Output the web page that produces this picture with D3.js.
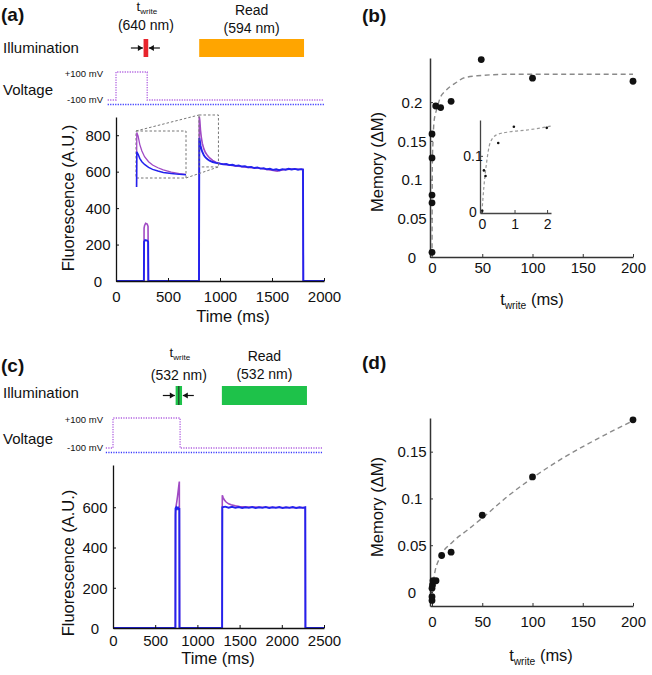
<!DOCTYPE html>
<html>
<head>
<meta charset="utf-8">
<script src="https://cdn.jsdelivr.net/npm/d3@7"></script>
<style>
  body { margin: 0; background: #fff; }
  text { font-family: "Liberation Sans", Arial, sans-serif; fill: #111; }
</style>
</head>
<body>
<svg id="fig" width="652" height="675"></svg>
<script>
// ---- panel (a): fluorescence traces, [time ms, A.U.]
const purpleA = [[0,0],[268,0],[270,290],[275,305],[285,316],[300,312],[308,300],[311,0],[798,0],[801,902],[806,880],[812,830],[820,790],[830,755],[845,725],[860,705],[880,688],[900,675],[930,662],[960,652],[1000,645],[1050,640],[1100,636],[1150,632],[1200,628],[1250,624],[1300,622],[1350,620],[1400,617],[1450,612],[1500,608],[1550,603],[1580,607],[1620,612],[1700,614],[1760,613],[1798,612],[1801,0],[2000,0]];
const blueA = [[0,0],[268,0],[270,215],[280,225],[300,222],[309,215],[311,0],[798,0],[801,785],[806,770],[812,745],[820,725],[830,708],[845,690],[860,678],[880,668],[900,660],[930,653],[960,648],[1000,644],[1030,640],[1060,642],[1090,636],[1120,638],[1150,632],[1180,634],[1210,628],[1240,630],[1270,624],[1300,626],[1330,620],[1360,623],[1390,617],[1420,619],[1450,613],[1480,616],[1510,610],[1540,613],[1570,608],[1600,614],[1630,611],[1660,616],[1690,612],[1720,615],[1750,611],[1780,614],[1798,612],[1801,0],[2000,0]];
const voltA = [[-80,-100],[0,-100],[0,100],[300,100],[300,-100],[2000,-100]];
const voltRefA = [[-80,-100],[2000,-100]];
const writeA = [265, 310];
const readA = [800, 1808];
const zoomT = [798, 985];
const zoomV = [626, 911];
const ticksXA = [0, 500, 1000, 1500, 2000];
const ticksYA = [0, 200, 400, 600, 800];

// ---- panel (b): memory vs write time
const bT = [0, 0, 0, 0, 0, 3.7, 8.6, 19, 49, 100, 200];
const bM = [0.006, 0.070, 0.080, 0.128, 0.159, 0.195, 0.193, 0.201, 0.255, 0.231, 0.227];
const bFitT = [0, 0.3, 1, 2, 5, 8, 13, 18, 25, 31, 45, 78, 200];
const bFitM = [0, 0.12, 0.15, 0.175, 0.192, 0.205, 0.214, 0.22, 0.226, 0.231, 0.234, 0.236, 0.236];
const insT = [0.01, 0.06, 0.11, 0.5, 0.98, 1.99];
const insM = [0.002, 0.074, 0.064, 0.123, 0.152, 0.150];
const insFitT = [0, 0.06, 0.14, 0.25, 0.45, 0.86, 1.37, 2.11];
const insFitM = [0, 0.045, 0.087, 0.123, 0.1375, 0.143, 0.146, 0.153];
const ticksXB = [0, 50, 100, 150, 200];
const ticksYB = [0, 0.05, 0.1, 0.15, 0.2];

// ---- panel (c)
const purpleC = [[0,0],[738,0],[740,560],[745,600],[755,625],[765,655],[775,690],[782,715],[786,728],[788,0],[1293,0],[1295,660],[1305,648],[1320,636],[1340,626],[1370,617],[1400,612],[1450,607],[1500,604],[1600,601],[1800,600],[2000,599],[2278,598],[2280,0],[2500,0]];
const blueC = [[0,0],[740,0],[741,595],[750,600],[760,592],[770,598],[780,590],[786,596],[788,0],[1293,0],[1295,600],[1330,603],[1370,598],[1410,602],[1450,597],[1490,601],[1530,596],[1570,600],[1610,597],[1650,601],[1690,596],[1730,600],[1770,597],[1810,601],[1850,596],[1890,600],[1930,597],[1970,601],[2010,596],[2050,600],[2090,597],[2130,601],[2170,596],[2210,600],[2250,597],[2278,600],[2280,0],[2500,0]];
const voltC = [[-85,-100],[0,-100],[0,100],[795,100],[795,-100],[2490,-100]];
const voltRefC = [[-85,-100],[2490,-100]];
const writeC = [742, 818];
const readC = [1290, 2298];
const ticksXC = [0, 500, 1000, 1500, 2000, 2500];
const ticksYC = [0, 200, 400, 600];

// ---- panel (d)
const dT = [0, 0, 0, 0.5, 1, 4, 9.6, 19, 50, 100, 200];
const dM = [-0.009, -0.005, 0.004, 0.0075, 0.012, 0.012, 0.039, 0.0425, 0.082, 0.123, 0.184];
const dFitT = [0, 3, 8, 20, 35, 50, 75, 100, 130, 165, 200];
const dFitM = [0.002, 0.022, 0.037, 0.053, 0.066, 0.079, 0.102, 0.122, 0.143, 0.164, 0.183];
const ticksYD = [0, 0.05, 0.1, 0.15];

const PURPLE = "#a04ac4", BLUE = "#2222ee";
const LABEL_FS = 16.5;
const svg = d3.select("#fig");

// axes in matlab style: ticks inward, y labels centred
function axes(g, x, y, xt, yt, o) {
  const ax = g.append("g")
    .attr("transform", `translate(0,${y.range()[0]})`)
    .call(d3.axisBottom(x).tickValues(xt).tickSize(-3).tickSizeOuter(0).tickFormat(d => d));
  ax.selectAll("text").attr("y", o.xOff).attr("dy", null);
  const ay = g.append("g")
    .attr("transform", `translate(${x.range()[0]},0)`)
    .call(d3.axisLeft(y).tickValues(yt).tickSize(-3).tickSizeOuter(0).tickFormat(d => d));
  ay.selectAll("text").attr("x", o.yOff).attr("text-anchor", "middle").attr("dy", "0.35em");
  [ax, ay].forEach(a => {
    a.attr("font-family", null).attr("font-size", null);
    a.selectAll("text").style("font-size", (o.fs || 15) + "px").style("fill", "#111");
    a.select(".domain").attr("stroke", o.col || "#111").attr("stroke-width", o.sw || 1.3);
    a.selectAll(".tick line").attr("stroke", o.col || "#111");
  });
}

function line(x, y) {
  return d3.line().x(d => x(d[0])).y(d => y(d[1]));
}

function subLabel(g, x, yb, fs, extra, rotate) {
  const t = g.append("text").style("font-size", fs + "px");
  if (rotate) t.attr("transform", rotate);
  else t.attr("x", x).attr("y", yb).attr("text-anchor", "middle");
  t.append("tspan").text("t");
  t.append("tspan").attr("dy", fs * 0.22).style("font-size", (fs * 0.62) + "px").text("write");
  if (extra) t.append("tspan").attr("dy", -fs * 0.22).text(extra);
  return t;
}

function arrows(g, cx, y, gap) {
  const L = cx - gap, R = cx + gap;
  g.append("line").attr("x1", L - 12).attr("x2", L).attr("y1", y).attr("y2", y).attr("stroke", "#111").attr("stroke-width", 1.2);
  g.append("path").attr("d", `M${L},${y}l-5,-3v6z`).attr("fill", "#111");
  g.append("line").attr("x1", R + 11).attr("x2", R).attr("y1", y).attr("y2", y).attr("stroke", "#111").attr("stroke-width", 1.2);
  g.append("path").attr("d", `M${R},${y}l5,-3v6z`).attr("fill", "#111");
}

// ---------- top schematic + trace panel (a) / (c)
function tracePanel(cfg) {
  const g = svg.append("g");
  const x = d3.scaleLinear().domain(cfg.xDom).range(cfg.xRange);
  const y = d3.scaleLinear().domain(cfg.yDom).range(cfg.yRange);

  g.append("text").attr("x", 1).attr("y", cfg.lblY).style("font-size", "19px").style("font-weight", "bold").text(cfg.tag);
  g.append("text").attr("x", 3).attr("y", cfg.illY).style("font-size", "15px").text("Illumination");
  g.append("text").attr("x", 3).attr("y", cfg.voltY).style("font-size", "15px").text("Voltage");

  // illumination bars
  g.append("rect").attr("x", x(cfg.write[0])).attr("width", x(cfg.write[1]) - x(cfg.write[0]))
    .attr("y", cfg.barY[0]).attr("height", cfg.barY[1] - cfg.barY[0]).attr("fill", cfg.writeCol);
  g.append("rect").attr("x", x(cfg.read[0])).attr("width", x(cfg.read[1]) - x(cfg.read[0]))
    .attr("y", cfg.barY[0]).attr("height", cfg.barY[1] - cfg.barY[0]).attr("fill", cfg.readCol);
  const wc = (x(cfg.write[0]) + x(cfg.write[1])) / 2;
  if (cfg.midLine) g.append("line").attr("x1", wc).attr("x2", wc).attr("y1", cfg.barY[0]).attr("y2", cfg.barY[1]).attr("stroke", "#222").attr("stroke-width", 1);
  arrows(g, wc, (cfg.barY[0] + cfg.barY[1]) / 2, cfg.arrowGap);

  subLabel(g, wc + 1, cfg.tY, 13);
  g.append("text").attr("x", wc).attr("y", cfg.nmY).attr("text-anchor", "middle").style("font-size", "14px").text(cfg.writeNm);
  const rc = (x(cfg.read[0]) + x(cfg.read[1])) / 2;
  g.append("text").attr("x", rc).attr("y", cfg.readY).attr("text-anchor", "middle").style("font-size", "14px").text("Read");
  g.append("text").attr("x", rc).attr("y", cfg.readNmY).attr("text-anchor", "middle").style("font-size", "14px").text(cfg.readNm);

  // voltage protocol
  const v = d3.scaleLinear().domain([-100, 100]).range(cfg.vRange);
  g.append("text").attr("x", 103).attr("y", v(100) + 5).attr("text-anchor", "end").style("font-size", "9.5px").text("+100 mV");
  g.append("text").attr("x", 103).attr("y", v(-100) + 3).attr("text-anchor", "end").style("font-size", "9.5px").text("-100 mV");
  g.append("path").attr("d", line(x, v)(cfg.voltRef)).attr("transform", "translate(0,4.5)")
    .attr("fill", "none").attr("stroke", "#3a3aff").attr("stroke-width", 1.6).attr("stroke-dasharray", "1.2,1.3");
  g.append("path").attr("d", line(x, v)(cfg.volt))
    .attr("fill", "none").attr("stroke", "#b060e0").attr("stroke-width", 1.3).attr("stroke-dasharray", "1.2,1.3");

  // fluorescence traces
  g.append("path").attr("d", line(x, y)(cfg.purple)).attr("fill", "none").attr("stroke", PURPLE).attr("stroke-width", 1.6);
  g.append("path").attr("d", line(x, y)(cfg.blue)).attr("fill", "none").attr("stroke", BLUE).attr("stroke-width", 1.9);

  axes(g, x, y, cfg.xt, cfg.yt, { xOff: cfg.xOff, yOff: -18 });
  g.append("text").attr("transform", `translate(${cfg.ylab[0]},${cfg.ylab[1]}) rotate(-90)`).attr("text-anchor", "middle")
    .style("font-size", LABEL_FS + "px").text("Fluorescence (A.U.)");
  g.append("text").attr("x", cfg.xlab[0]).attr("y", cfg.xlab[1]).attr("text-anchor", "middle").style("font-size", LABEL_FS + "px").text("Time (ms)");
  return { g, x, y };
}

const pa = tracePanel({
  tag: "(a)", lblY: 21, illY: 53, voltY: 95,
  xDom: [0, 2000], xRange: [116, 324], yDom: [0, 900], yRange: [281, 117],
  write: writeA, read: readA, writeCol: "#e8242c", readCol: "#ffa500", barY: [39, 57], arrowGap: 3,
  tY: 11, nmY: 30, readY: 15, readNmY: 33, writeNm: "(640 nm)", readNm: "(594 nm)",
  vRange: [100, 72], volt: voltA, voltRef: voltRefA,
  purple: purpleA, blue: blueA, xt: ticksXA, yt: ticksYA, xOff: 21,
  ylab: [74, 198], xlab: [233, 322]
});

// magnified inset in (a)
(function () {
  const g = pa.g, x = pa.x, y = pa.y;
  const box = { x0: 136, x1: 186, y0: 131, y1: 178 };
  const sx = [x(zoomT[0]), x(zoomT[1])], sy = [y(zoomV[1]), y(zoomV[0])];
  const dash = { stroke: "#777", "stroke-width": 1, "stroke-dasharray": "2.5,2", fill: "none" };
  const rect = (a, b, c, d) => { const r = g.append("rect").attr("x", a).attr("y", c).attr("width", b - a).attr("height", d - c); Object.entries(dash).forEach(([k, v]) => r.attr(k, v)); };
  const seg = (a, b, c, d) => { const l = g.append("line").attr("x1", a).attr("y1", b).attr("x2", c).attr("y2", d); Object.entries(dash).forEach(([k, v]) => l.attr(k, v)); };
  rect(sx[0], sx[1], sy[0], sy[1]);
  rect(box.x0, box.x1, box.y0, box.y1);
  seg(box.x0, box.y0, sx[0], sy[0]);
  seg(box.x1, box.y1, sx[1], sy[1]);
  svg.append("clipPath").attr("id", "zclip").append("rect").attr("x", box.x0 - 1).attr("y", box.y0).attr("width", box.x1 - box.x0 + 1).attr("height", box.y1 - box.y0 + 9);
  const xi = d3.scaleLinear().domain(zoomT).range([box.x0, box.x1]);
  const yi = d3.scaleLinear().domain(zoomV).range([box.y1, box.y0]);
  const zg = g.append("g").attr("clip-path", "url(#zclip)");
  zg.append("path").attr("d", line(xi, yi)(purpleA)).attr("fill", "none").attr("stroke", PURPLE).attr("stroke-width", 1.3);
  zg.append("path").attr("d", line(xi, yi)(blueA)).attr("fill", "none").attr("stroke", BLUE).attr("stroke-width", 1.5);
})();

tracePanel({
  tag: "(c)", lblY: 372, illY: 398, voltY: 444,
  xDom: [0, 2500], xRange: [113, 324], yDom: [0, 810], yRange: [628, 465],
  write: writeC, read: readC, writeCol: "#1ec24a", readCol: "#1ec24a", barY: [386, 405], arrowGap: 4, midLine: true,
  tY: 357, nmY: 380, readY: 361, readNmY: 379, writeNm: "(532 nm)", readNm: "(532 nm)",
  vRange: [448, 418], volt: voltC, voltRef: voltRefC,
  purple: purpleC, blue: blueC, xt: ticksXC, yt: ticksYC, xOff: 18,
  ylab: [74, 563], xlab: [218, 664]
});

// ---------- scatter panels (b) / (d)
function memPanel(cfg) {
  const g = svg.append("g");
  const x = d3.scaleLinear().domain([-2, 200]).range([430, 633]);
  const y = d3.scaleLinear().domain(cfg.yDom).range(cfg.yRange);
  g.append("text").attr("x", 362).attr("y", cfg.lblY).style("font-size", "19px").style("font-weight", "bold").text(cfg.tag);
  axes(g, x, y, ticksXB, cfg.yt, { xOff: cfg.xOff, yOff: -18, col: "#333", sw: 1.5 });
  const fit = cfg.fitT.map((t, i) => [t, cfg.fitM[i]]);
  g.append("path").attr("d", line(x, y).curve(d3.curveMonotoneX)(fit)).attr("fill", "none")
    .attr("stroke", "#8a8a8a").attr("stroke-width", 1.4).attr("stroke-dasharray", "5,3.5");
  g.selectAll("circle.pt").data(cfg.t.map((t, i) => [t, cfg.m[i]])).join("circle").attr("class", "pt")
    .attr("cx", d => x(d[0])).attr("cy", d => y(d[1])).attr("r", 3.4).attr("fill", "#111");
  g.append("text").attr("transform", `translate(383,${cfg.ylab}) rotate(-90)`).attr("text-anchor", "middle")
    .style("font-size", LABEL_FS + "px").text("Memory (ΔM)");
  subLabel(g, cfg.xlab[0], cfg.xlab[1], LABEL_FS, " (ms)");
  return g;
}

const pb = memPanel({
  tag: "(b)", lblY: 22, yDom: [0, 0.257], yRange: [257, 58], yt: ticksYB, xOff: 16,
  t: bT, m: bM, fitT: bFitT, fitM: bFitM, ylab: 162, xlab: [532, 305]
});

// inset of (b)
(function () {
  const x = d3.scaleLinear().domain([-0.06, 2.12]).range([480, 551]);
  const y = d3.scaleLinear().domain([-0.002, 0.164]).range([213, 120]);
  const g = pb.append("g");
  axes(g, x, y, [0, 1, 2], [0, 0.1], { xOff: 16, yOff: -7, fs: 14, col: "#444", sw: 1.3 });
  const fit = insFitT.map((t, i) => [t, insFitM[i]]);
  g.append("path").attr("d", line(x, y).curve(d3.curveMonotoneX)(fit)).attr("fill", "none")
    .attr("stroke", "#999").attr("stroke-width", 1.2).attr("stroke-dasharray", "3,2.5");
  g.selectAll("circle").data(insT.map((t, i) => [t, insM[i]])).join("circle")
    .attr("cx", d => x(d[0])).attr("cy", d => y(d[1])).attr("r", 1.3).attr("fill", "#111");
})();

memPanel({
  tag: "(d)", lblY: 369, yDom: [-0.015, 0.186], yRange: [606, 418], yt: ticksYD, xOff: 21,
  t: dT, m: dM, fitT: dFitT, fitM: dFitM, ylab: 507, xlab: [541, 661]
});
</script>
</body>
</html>
